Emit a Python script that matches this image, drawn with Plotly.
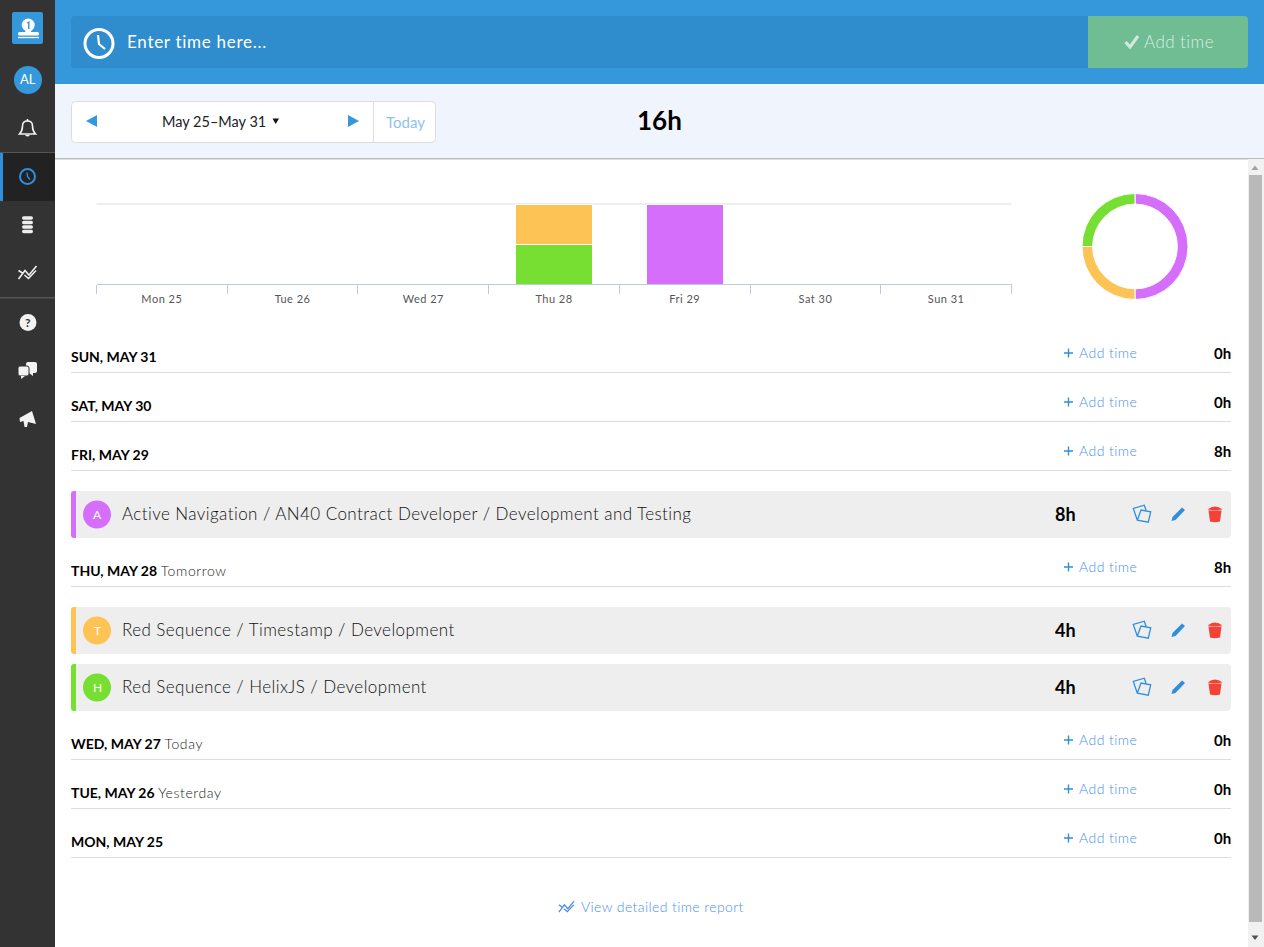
import re
import plotly.graph_objects as go

# ---------- data ----------
chart_days = ["Mon 25", "Tue 26", "Wed 27", "Thu 28", "Fri 29", "Sat 30", "Sun 31"]
hours_green = [0, 0, 0, 4, 0, 0, 0]
hours_orange = [0, 0, 0, 4, 0, 0, 0]
hours_purple = [0, 0, 0, 0, 8, 0, 0]
share_names = ["Active Navigation", "Timestamp", "HelixJS"]
share_hours = [8, 4, 4]
grid_value = 8

day_titles = ["SUN, MAY 31", "SAT, MAY 30", "FRI, MAY 29", "THU, MAY 28", "WED, MAY 27", "TUE, MAY 26", "MON, MAY 25"]
day_notes = ["", "", "", "Tomorrow", "Today", "Yesterday", ""]
day_totals = ["0h", "0h", "8h", "8h", "0h", "0h", "0h"]
entry_titles = ["Active Navigation / AN40 Contract Developer / Development and Testing",
                "Red Sequence / Timestamp / Development",
                "Red Sequence / HelixJS / Development"]
entry_letters = ["A", "T", "H"]
entry_hours = ["8h", "4h", "4h"]

# ---------- styles ----------
ORANGE, GREEN, PURPLE = "#fec355", "#76df32", "#d66efc"
BLUE = "#3498db"
LINK = "#4a90e8"
ICON = "#2f8fdc"
FONT = "Lato"
W, H = 1264, 947
day_y = [357, 406, 455, 571, 744, 793, 842]
entry_y = [514.5, 630.5, 687.5]
entry_colors = [PURPLE, ORANGE, GREEN]

shapes, notes = [], []


def rect(x0, y0, x1, y1, fill, line=None, lw=1):
    shapes.append(dict(type="rect", xref="x2", yref="y2", x0=x0, y0=y0, x1=x1, y1=y1, fillcolor=fill,
                       line=dict(color=line or fill, width=lw if line else 0), layer="above"))


def path(d, fill="rgba(0,0,0,0)", line=None, lw=1.5):
    shapes.append(dict(type="path", xref="x2", yref="y2", path=d, fillcolor=fill,
                       line=dict(color=line or fill, width=lw if line else 0), layer="above"))


def rrect(x0, y0, x1, y1, r, fill, line=None, lw=1, corners=(1, 1, 1, 1)):
    tl, tr, br, bl = [r * c for c in corners]
    d = (f"M {x0 + tl} {y0} L {x1 - tr} {y0} Q {x1} {y0} {x1} {y0 + tr} L {x1} {y1 - br} Q {x1} {y1} {x1 - br} {y1} "
         f"L {x0 + bl} {y1} Q {x0} {y1} {x0} {y1 - bl} L {x0} {y0 + tl} Q {x0} {y0} {x0 + tl} {y0} Z")
    path(d, fill, line, lw)


def circle(cx, cy, r, fill="rgba(0,0,0,0)", line=None, lw=1):
    shapes.append(dict(type="circle", xref="x2", yref="y2", x0=cx - r, y0=cy - r, x1=cx + r, y1=cy + r,
                       fillcolor=fill, line=dict(color=line or fill, width=lw if line else 0), layer="above"))


def at(cx, cy, d, s=1.0):
    """Shift an icon outline written around (0,0) to (cx,cy)."""
    idx = [0]

    def rep(m):
        v = float(m.group(0)) * s + (cx if idx[0] % 2 == 0 else cy)
        idx[0] += 1
        return f"{v:.2f}"
    return re.sub(r"-?\d+\.?\d*", rep, d)


def text(x, y, s, size, color, anchor="left", weight=None, ls=0, font=FONT):
    f = dict(size=size, color=color, family=font)
    if weight:
        f["weight"] = weight
    if ls:
        s = f'<span style="letter-spacing:{ls}px">{s}</span>'
    notes.append(dict(xref="x2", yref="y2", x=x, y=y - 1, text=s, showarrow=False, xanchor=anchor, yanchor="middle",
                      font=f, borderpad=0, borderwidth=0))


CHART_ICON = "M -9 6 L -2.5 -2.5 L 1.5 2 L 9 -7 M -9 -2.5 L -5 0 M -3 2 L 1 5.5 L 8.5 -2.5"
COPY_ICON = "M 4 -3.3 L 2.3 -8.3 L -8.7 -5 L -4.7 6.7 L 6.3 8.7 L 8.7 -1.7 L -1 -3.5 L -4.7 6.7"

# ---------- sidebar ----------
rect(0, 0, 55, H, "#333333")
rrect(12, 12, 43, 44, 2, BLUE)
circle(28.2, 25, 6.5, "#ffffff")
path("M 26.5 22.5 L 29.5 21 L 29.5 29 L 28 29 L 28 23.5 Z", BLUE)
path("M 25 29 L 31.5 29 L 31 33 L 25.5 33 Z", "#ffffff")
rrect(18, 32, 39, 35.5, 1.5, "#ffffff")
rect(18, 36.8, 39, 38.2, "#ffffff")
circle(28, 80, 14, BLUE)
text(28, 80, "AL", 13, "#ffffff", "center")
path(at(27.5, 128, "M -8 6 Q -5 3 -5 -2 Q -5 -7 0 -7 Q 5 -7 5 -2 Q 5 3 8 6 Z"), "rgba(0,0,0,0)", "#f2f2f2", 1.6)
path(at(27.5, 128, "M -2.5 7 Q 0 10 2.5 7 Z"), "#f2f2f2")
rect(26.7, 119, 28.3, 121.5, "#f2f2f2")
rect(0, 152, 55, 153, "#555555")
rect(0, 153, 55, 201, "#222222")
rect(0, 153, 3, 201, ICON)
circle(27.5, 176.5, 7.5, "rgba(0,0,0,0)", ICON, 2)
path(at(27.5, 176.5, "M -0.5 -4 L 0 0 L 2.5 3"), "rgba(0,0,0,0)", ICON, 1.4)
for dy in (-7, -2.5, 2, 6.5):
    rrect(22, 225 + dy - 1.7, 33, 225 + dy + 1.7, 1.7, "#eeeeee")
path(at(27.5, 273, CHART_ICON), "rgba(0,0,0,0)", "#f2f2f2", 1.5)
rect(0, 297, 55, 298.5, "#555555")
circle(28, 322.5, 8.5, "#f2f2f2")
text(28, 323.5, "<b>?</b>", 12, "#333333", "center")
rrect(26, 362, 37, 373, 2, "#f2f2f2")
path("M 29 373 L 33 373 L 33 376 Z", "#f2f2f2")
rrect(18, 366, 29, 376, 2, "#f2f2f2", "#333333", 1)
path("M 21 376 L 25 376 L 21 379 Z", "#f2f2f2")
path("M 32 411 L 36 424 L 28 422 L 27 427 L 24.5 427 L 23.5 421 L 20 422 L 19.5 418 Z", "#f2f2f2")

# ---------- top bars ----------
rect(55, 0, W, 84, BLUE)
rrect(71, 16, 1088, 68, 4, "#2f8dce", corners=(1, 0, 0, 1))
rrect(1088, 16, 1248, 68, 4, "#70bd93", corners=(0, 1, 1, 0))
circle(99, 43.5, 14, "rgba(0,0,0,0)", "#ffffff", 3)
path("M 98 35 L 99 44 L 105 49", "rgba(0,0,0,0)", "#ffffff", 2.2)
text(127, 42, "Enter time here...", 17, "#ffffff", ls=0.72)
path("M 1125.5 42 L 1130 47 L 1138 36", "rgba(0,0,0,0)", "#d4e8dd", 3)
text(1144, 42.5, "Add time", 17, "#d8ede3", weight=300, ls=0.45)

rect(55, 84, W, 158, "#f0f5fd")
rect(55, 158, W, 159.5, "#bdbdbd")
rrect(71.5, 101.5, 435.5, 142.5, 4, "#ffffff", "#dddddd", 1)
rect(373, 102, 374, 142, "#dddddd")
path("M 86 121 L 97 115 L 97 127 Z", BLUE)
path("M 348 115 L 359 121 L 348 127 Z", BLUE)
path("M 272.5 118.5 L 279 118.5 L 275.7 124 Z", "#111111")
text(214, 122.5, "May 25–May 31", 14.5, "#222222", "center")
text(405.5, 122.5, "Today", 15, "#8cc3ef", "center")
text(659, 121, "16h", 26, "#000000", "center", 700)

# ---------- scrollbar ----------
rect(1248, 159, W, H, "#f1f1f1")
rect(1249, 175, 1262, 922, "#b9b9b9")
path("M 1251.5 170 L 1258.5 170 L 1255 165.5 Z", "#a3a3a3")
path("M 1251.5 935.5 L 1258.5 935.5 L 1255 940 Z", "#505050")

# ---------- day rows ----------
for y, title, note, total in zip(day_y, day_titles, day_notes, day_totals):
    rect(71, y + 15, 1231, y + 16, "#dddddd")
    label = f"<b>{title}</b>"
    if note:
        label += f' <span style="color:#222222;letter-spacing:0.6px;font-weight:300">{note}</span>'
    text(71, y, label, 14, "#000000")
    path(f"M 1064 {y - 4} L 1073 {y - 4} M 1068.5 {y - 8.5} L 1068.5 {y + 0.5}", "rgba(0,0,0,0)", ICON, 1.4)
    text(1079, y - 3.5, "Add time", 14, LINK, weight=300, ls=0.45)
    text(1231, y - 3.5, f"<b>{total}</b>", 15, "#000000", "right")

# ---------- entries ----------
for y, title, letter, hrs, col in zip(entry_y, entry_titles, entry_letters, entry_hours, entry_colors):
    rrect(71, y - 23.5, 1231, y + 23.5, 4, "#eeeeee")
    rrect(71, y - 23.5, 76, y + 23.5, 3, col, corners=(1, 0, 0, 1))
    circle(97, y, 14, col)
    text(97, y + 0.5, letter, 12, "#ffffff", "center")
    text(122, y, title, 17, "#111111", weight=300, ls=0.43)
    text(1065.5, y + 0.5, f"<b>{hrs}</b>", 18, "#000000", "center")
    path(at(1142, y - 1, COPY_ICON), "rgba(0,0,0,0)", ICON, 1.3)
    path(at(1178.5, y - 1, "M -7 7.5 L -6 3.5 L 3.5 -6 L 6.5 -3.5 L -3 6.5 Z"), ICON)
    path(at(1215, y, "M -6.5 -4 L 6.5 -4 L 5 7 Q 0 8.5 -5 7 Z"), "#f44336")
    path(at(1215, y, "M -7.5 -5 Q 0 -11 7.5 -5 Q 0 -3.5 -7.5 -5 Z"), "#f44336")

# ---------- footer ----------
path(at(566.5, 907, CHART_ICON, 0.85), "rgba(0,0,0,0)", "#4d8fdf", 1.3)
text(581, 907.5, "View detailed time report", 14, LINK, weight=300, ls=0.4)

# ---------- chart gridline (drawn under the bars) ----------
shapes.append(dict(type="line", xref="x domain", yref="y", x0=0, x1=1, y0=grid_value, y1=grid_value,
                   line=dict(color="#dddddd", width=1), layer="below"))

# ---------- chart ----------
fig = go.Figure()
for vals, col, name in [(hours_green, GREEN, "HelixJS"), (hours_orange, ORANGE, "Timestamp"),
                        (hours_purple, PURPLE, "Active Navigation")]:
    fig.add_trace(go.Bar(x=chart_days, y=vals, name=name, marker=dict(color=col, line=dict(color="#ffffff", width=1))))
fig.add_trace(go.Pie(labels=share_names, values=share_hours, hole=0.8, sort=False, direction="clockwise",
                     rotation=0, textinfo="none", showlegend=False,
                     marker=dict(colors=[PURPLE, ORANGE, GREEN], line=dict(color="#ffffff", width=1)),
                     domain=dict(x=[1082 / W, 1188 / W], y=[1 - 299.5 / H, 1 - 193.5 / H])))
# invisible helper so the pixel-based overlay axes exist
fig.add_trace(go.Scatter(x=[0], y=[0], xaxis="x2", yaxis="y2", mode="markers", marker=dict(opacity=0),
                         showlegend=False, hoverinfo="skip"))

fig.update_layout(
    width=W, height=H, margin=dict(l=0, r=0, t=0, b=0), autosize=False,
    paper_bgcolor="#ffffff", plot_bgcolor="rgba(0,0,0,0)",
    barmode="stack", bargap=0.41, showlegend=False, font=dict(family=FONT),
    xaxis=dict(domain=[96.5 / W, 1011.5 / W], anchor="y", type="category", categoryorder="array",
               categoryarray=chart_days, range=[-0.5, 6.5], tickson="boundaries", ticks="outside", ticklen=9,
               tickwidth=1, tickcolor="#bccbdd", ticklabelstandoff=5,
               showline=True, linecolor="#bccbdd", linewidth=1, showgrid=False, zeroline=False,
               tickfont=dict(size=11, color="#555555", family=FONT)),
    yaxis=dict(domain=[1 - 284 / H, 1 - 203 / H], anchor="x", range=[0, 8.1], tickvals=[8], showticklabels=False,
               showgrid=False, zeroline=False, showline=False, ticks=""),
    xaxis2=dict(domain=[0, 1], range=[0, W], visible=False, anchor="y2", fixedrange=True),
    yaxis2=dict(domain=[0, 1], range=[H, 0], visible=False, anchor="x2", fixedrange=True),
    shapes=shapes, annotations=notes,
)

fig.write_html("out.html", config=dict(displayModeBar=False),
               post_script="document.body.style.margin='0';document.body.style.overflow='hidden';"
                           "document.head.insertAdjacentHTML('beforeend','<style>.xtick text{letter-spacing:.5px}</style>');"
                           "window.dispatchEvent(new Event('resize'));")
